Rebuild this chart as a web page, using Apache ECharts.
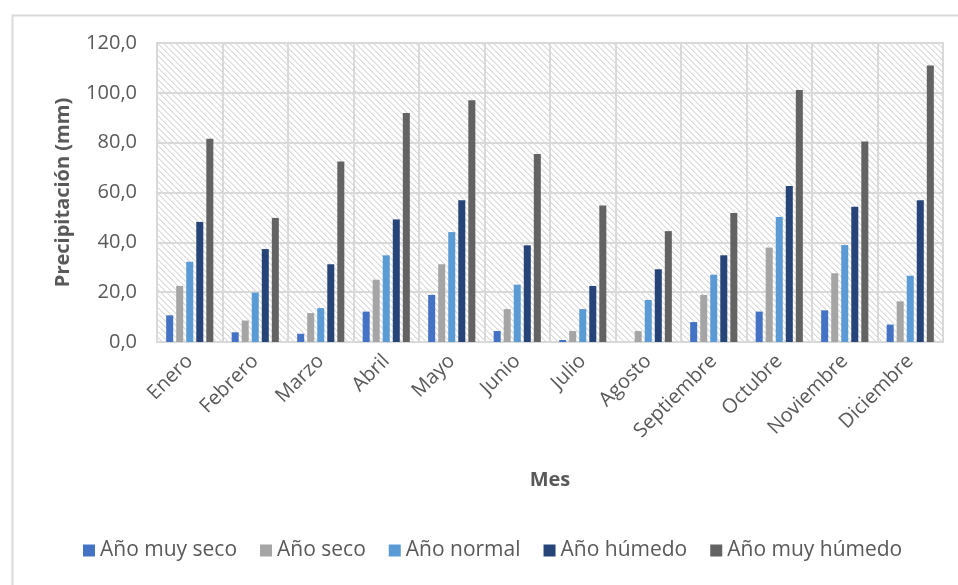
<!DOCTYPE html>
<html>
<head>
<meta charset="utf-8">
<script src="https://cdn.jsdelivr.net/npm/echarts@6/dist/echarts.min.js"></script>
<style>
html,body{margin:0;padding:0;background:#fff;}
#chart{width:958px;height:585px;}
</style>
</head>
<body>
<div id="chart"></div>
<script>
const months = ['Enero','Febrero','Marzo','Abril','Mayo','Junio','Julio','Agosto','Septiembre','Octubre','Noviembre','Diciembre'];
const seriesNames = ['Año muy seco','Año seco','Año normal','Año húmedo','Año muy húmedo'];
const muySeco   = [10.7, 3.9, 3.3, 12.2, 18.9, 4.4, 0.8, 0.0, 8.0, 12.2, 12.7, 7.0];
const seco      = [22.5, 8.6, 11.6, 25.0, 31.2, 13.2, 4.4, 4.4, 18.9, 37.9, 27.6, 16.3];
const normal    = [32.2, 19.8, 13.6, 34.8, 44.1, 23.0, 13.2, 16.9, 27.0, 50.2, 38.9, 26.6];
const humedo    = [48.2, 37.3, 31.2, 49.2, 56.9, 38.8, 22.5, 29.2, 34.8, 62.6, 54.3, 56.9];
const muyHumedo = [81.6, 49.8, 72.4, 91.9, 97.0, 75.5, 54.8, 44.5, 51.8, 101.1, 80.5, 111.0];
const colors = ['#4472C4','#A5A5A5','#5B9BD5','#264478','#636363'];

const values = [muySeco, seco, normal, humedo, muyHumedo];

// hatch pattern for plot background
const tile = document.createElement('canvas');
tile.width = 6; tile.height = 6;
const tc = tile.getContext('2d');
tc.fillStyle = '#ffffff';
tc.fillRect(0,0,6,6);
for (let x = 0; x < 6; x++) {
  for (let y = 0; y < 6; y++) {
    const d = ((x - y) % 6 + 6) % 6;
    if (d === 0) { tc.fillStyle = '#dadada'; tc.fillRect(x, y, 1, 1); }
    else if (d === 1) { tc.fillStyle = '#ebebeb'; tc.fillRect(x, y, 1, 1); }
  }
}

const txt = '#595959';
const font = '"Open Sans", sans-serif';
const chart = echarts.init(document.getElementById('chart'));
chart.setOption({
  animation: false,
  backgroundColor: '#ffffff',
  color: colors,
  graphic: [{
    type: 'rect', left: 10, top: 13, shape: {width: 1000, height: 620},
    style: {fill: 'none', stroke: '#d9d9d9', lineWidth: 2}, silent: true
  }],
  grid: {
    left: 157, right: 15, top: 43, bottom: 243,
    show: true,
    backgroundColor: {image: tile, repeat: 'repeat'},
    borderColor: '#d9d9d9', borderWidth: 2
  },
  legend: {
    data: seriesNames,
    bottom: 19,
    left: 78,
    icon: 'rect',
    itemWidth: 12, itemHeight: 12, itemGap: 23,
    textStyle: {color: txt, fontSize: 21, fontFamily: font}
  },
  xAxis: {
    type: 'category',
    data: months,
    name: 'Mes',
    nameLocation: 'middle',
    nameGap: 128,
    nameTextStyle: {color: txt, fontSize: 20, fontWeight: 'bold', fontFamily: font},
    axisLine: {show: true, lineStyle: {color: '#d9d9d9', width: 2}},
    axisTick: {show: false},
    axisLabel: {rotate: 45, color: txt, fontSize: 20, fontFamily: font, margin: 16, interval: 0},
    splitLine: {show: true, lineStyle: {color: '#d9d9d9', width: 2}}
  },
  yAxis: {
    type: 'value',
    min: 0, max: 120, interval: 20,
    name: 'Precipitación (mm)',
    nameLocation: 'middle',
    nameGap: 84,
    nameTextStyle: {color: txt, fontSize: 20, fontWeight: 'bold', fontFamily: font},
    axisLine: {show: false},
    axisTick: {show: false},
    axisLabel: {color: txt, fontSize: 20, fontFamily: font, margin: 20,
      formatter: v => v.toFixed(1).replace('.', ',')},
    splitLine: {show: true, lineStyle: {color: '#d9d9d9', width: 2}}
  },
  series: seriesNames.map((n, i) => ({
    name: n,
    type: 'bar',
    data: values[i],
    barGap: '43%',
    barCategoryGap: '28%',
    itemStyle: {color: colors[i]}
  }))
});
</script>
</body>
</html>
